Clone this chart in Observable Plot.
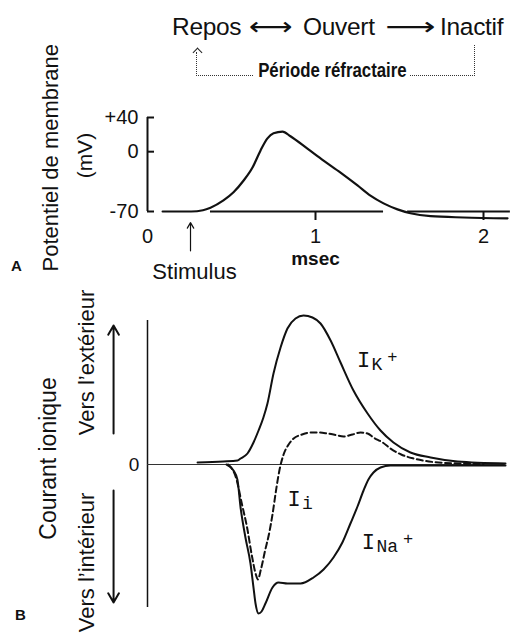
<!DOCTYPE html>
<html>
<head>
<meta charset="utf-8">
<script src="https://cdn.jsdelivr.net/npm/d3@7"></script>
<script src="https://cdn.jsdelivr.net/npm/@observablehq/plot@0.6"></script>
<style>
  body { margin: 0; background: #fff; }
  #fig { position: relative; width: 514px; height: 637px; overflow: hidden;
         font-family: "Liberation Sans", Arial, sans-serif; color: #111; background: #fff; }
  #fig svg { position: absolute; left: 0; top: 0; }
  .state { position: absolute; top: 14px; font-size: 24.5px; line-height: 25px; letter-spacing: -0.3px; white-space: nowrap; }
  .arrow { position: absolute; top: 14px; font-family: "DejaVu Sans", sans-serif; font-size: 25px; line-height: 25px;
           transform-origin: 0 50%; }
  .refr { position: absolute; left: 242px; top: 60px; width: 178px; text-align: center;
          font-size: 20px; line-height: 20px; font-weight: bold; white-space: nowrap; }
  .refr span { display: inline-block; transform: scaleX(0.84); background: #fff; padding: 0 2px; }
  .dot-l { position: absolute; left: 196px; top: 52px; width: 56px; height: 23px;
           border-left: 1.5px dotted #333; border-bottom: 1.5px dotted #333; }
  .dot-r { position: absolute; left: 410px; top: 45px; width: 64px; height: 30px;
           border-right: 1.5px dotted #333; border-bottom: 1.5px dotted #333; }
  .head { position: absolute; left: 193.5px; top: 49px; width: 6px; height: 6px;
          border-left: 1.5px solid #222; border-top: 1.5px solid #222; transform: rotate(45deg); }
</style>
</head>
<body>
<div id="fig">
  <!-- channel states -->
  <span class="state" style="left:172px">Repos</span>
  <span class="arrow" style="left:249px; transform: scaleX(1.22)">⟷</span>
  <span class="state" style="left:303px">Ouvert</span>
  <span class="arrow" style="left:385px; transform: scaleX(1.4)">⟶</span>
  <span class="state" style="left:440px">Inactif</span>
  <div class="dot-l"></div>
  <div class="dot-r"></div>
  <div class="head"></div>
  <div class="refr"><span>Période réfractaire</span></div>
</div>
<script>
// ---- A: action potential ----
const timeA = [0.09, 0.26, 0.33, 0.375, 0.452, 0.512, 0.571, 0.625, 0.673, 0.714, 0.75, 0.804,
               0.851, 0.952, 1.048, 1.149, 1.25, 1.327, 1.405, 1.488, 1.565, 1.685, 1.881, 2.143];
const potentialA = [-70, -70, -68.5, -65.5, -57, -47.5, -34, -18.5, 1.5, 15.5, 21.5, 23.5,
                    18, 3.5, -10.5, -24.5, -39.5, -51.5, -60.5, -67.5, -72, -75.5, -77, -78];
const vTicks = [40, 0, -70];
const vTickLabels = ["+40", "0", "-70"];
const tTickLabels = [0, 1, 2];
const tTickMarks = [1, 2];
const restStart = [0.375, 1.548];   // resting-level reference line pieces
const restEnd = [1.405, 2.16];
const stimulusTime = 0.256;

// ---- B: ionic currents (arbitrary units) ----
const timeK = [0.298, 0.45, 0.536, 0.554, 0.595, 0.631, 0.661, 0.69, 0.714, 0.75, 0.792, 0.833, 0.881,
               0.929, 0.982, 1.03, 1.09, 1.149, 1.226, 1.31, 1.387, 1.464, 1.565, 1.685, 1.845, 2.131];
const currentK = [0.2, 0.3, 0.4, 0.6, 1.1, 2.2, 3.4, 4.7, 6.1, 9.1, 11.7, 13.6, 14.6,
                  14.9, 14.7, 14.1, 12.4, 10.2, 7.4, 5.1, 3.4, 2.2, 1.2, 0.7, 0.3, 0.1];
const timeNa = [0.47, 0.512, 0.535, 0.554, 0.583, 0.613, 0.631, 0.643, 0.661, 0.679, 0.702, 0.744,
                0.78, 0.833, 0.911, 0.988, 1.048, 1.107, 1.16, 1.208, 1.25, 1.286, 1.315, 1.345,
                1.387, 1.446, 1.506, 2.131];
const currentNa = [0, -0.6, -1.5, -4.3, -7.3, -9.9, -12.3, -13.9, -14.9, -14.7, -13.9, -12.3,
                   -11.8, -11.9, -11.9, -11.3, -10.5, -9.3, -7.8, -5.9, -4.2, -2.6, -1.5, -0.8,
                   -0.3, -0.1, -0.1, -0.1];
const timeI = [0.48, 0.53, 0.56, 0.595, 0.62, 0.645, 0.657, 0.675, 0.70, 0.725, 0.744, 0.765, 0.785,
               0.81, 0.84, 0.87, 0.92, 0.97, 1.02, 1.07, 1.12, 1.167, 1.22, 1.268, 1.31, 1.345,
               1.40, 1.446, 1.51, 1.583, 1.70, 1.85, 2.0];
const currentI = [0, -1.5, -3.8, -6.5, -9.0, -11.0, -11.5, -10.5, -8.6, -6.8, -5.0, -2.6, -0.6,
                  1.0, 2.0, 2.6, 3.0, 3.2, 3.2, 3.1, 2.95, 2.8, 3.0, 3.2, 3.1, 2.7,
                  2.2, 1.6, 1.0, 0.6, 0.25, 0.1, 0.05];
const curveSub = ["K", "i", "Na"];
const curveSup = ["+", "", "+"];
const labelTime = [1.286, 0.872, 1.315];
const labelCurrent = [10.5, -3.4, -7.7];

const SANS = "Liberation Sans, Arial, sans-serif";
const MONO = "Liberation Mono, DejaVu Sans Mono, monospace";
const INK = "#111";

const xScale = {domain: [0, 2], range: [147, 483], axis: null};

const plotA = Plot.plot({
  width: 514, height: 637, margin: 0,
  style: {background: "transparent", overflow: "visible", color: INK},
  x: xScale,
  y: {domain: [-70, 40], range: [211, 117], axis: null},
  marks: [
    Plot.ruleX([0], {y1: -70, y2: 40, stroke: INK, strokeWidth: 2}),
    Plot.ruleY(vTicks, {x1: 0, x2: 0, insetRight: -7, stroke: INK, strokeWidth: 2}),
    Plot.text(vTicks, {x: 0, y: d => d, text: (d, i) => vTickLabels[i], textAnchor: "end",
                       dx: -9, fontSize: 20, fontFamily: SANS, fill: INK}),
    Plot.ruleY(restStart, {x1: d => d, x2: (d, i) => restEnd[i], y: -70, stroke: INK, strokeWidth: 2}),
    Plot.ruleX(tTickMarks, {y1: -70, y2: -70, insetBottom: -9, stroke: INK, strokeWidth: 2}),
    Plot.text(tTickLabels, {x: d => d, y: -70, text: d => String(d), dy: 25,
                            fontSize: 20, fontFamily: SANS, fill: INK}),
    Plot.text(["msec"], {x: 1, y: -126, fontSize: 19, fontWeight: "bold", fontFamily: SANS, fill: INK}),
    Plot.line(timeA, {x: d => d, y: (d, i) => potentialA[i], curve: "monotone-x",
                      stroke: INK, strokeWidth: 2.2}),
    Plot.arrow([stimulusTime], {x1: d => d, x2: d => d, y1: -116, y2: -83,
                                headLength: 8, stroke: INK, strokeWidth: 1.2}),
    Plot.text(["Stimulus"], {x: 0.28, y: -141, fontSize: 22, fontFamily: SANS, fill: INK}),
    Plot.text(["Potentiel de membrane"], {x: -0.577, y: -7, rotate: -90, fontSize: 22,
                                          fontFamily: SANS, fill: INK}),
    Plot.text(["(mV)"], {x: -0.369, y: -4.6, rotate: -90, fontSize: 21, fontFamily: SANS, fill: INK}),
    Plot.text(["A"], {x: -0.78, y: -134, fontSize: 15, fontWeight: "bold", fontFamily: SANS, fill: INK})
  ]
});

// horizontal offset of the charge sign, after the subscript
const supDx = (i) => 8 + curveSub[i].length * 10.8 + 5;

const plotB = Plot.plot({
  width: 514, height: 637, margin: 0,
  style: {background: "transparent", overflow: "visible", color: INK},
  x: xScale,
  y: {domain: [-15, 15], range: [614, 314], axis: null},
  marks: [
    Plot.ruleX([0], {y1: -14.3, y2: 14.4, stroke: INK, strokeWidth: 1.5}),
    Plot.ruleY([0], {x1: 0, x2: 2.13, stroke: "#333", strokeWidth: 1.2}),
    Plot.text([0], {x: 0, y: 0, text: d => String(d), dx: -13.5, fontSize: 19, fontFamily: SANS, fill: INK}),
    Plot.line(timeK, {x: d => d, y: (d, i) => currentK[i], curve: "monotone-x", stroke: INK, strokeWidth: 2}),
    Plot.line(timeNa, {x: d => d, y: (d, i) => currentNa[i], curve: "monotone-x", stroke: INK, strokeWidth: 2}),
    Plot.line(timeI, {x: d => d, y: (d, i) => currentI[i], curve: "monotone-x", stroke: INK,
                      strokeWidth: 2, strokeDasharray: "6,3.5"}),
    // curve names: I with subscript ion and superscript charge
    Plot.text(labelTime, {x: d => d, y: (d, i) => labelCurrent[i], text: () => "I",
                          fontSize: 22, fontFamily: MONO, fill: INK}),
    ...curveSub.map((s, i) => Plot.text([labelTime[i]], {x: d => d, y: labelCurrent[i], text: () => s,
                          textAnchor: "start", dx: 8, dy: 5, fontSize: 18, fontFamily: MONO, fill: INK})),
    ...curveSup.map((s, i) => Plot.text([labelTime[i]], {x: d => d, y: labelCurrent[i], text: () => s,
                          textAnchor: "start", dx: supDx(i), dy: -3, fontSize: 17, fontFamily: MONO, fill: INK})),
    // current direction
    Plot.arrow([-0.202], {x1: d => d, x2: d => d, y1: 3.1, y2: 13.9, headLength: 8,
                          stroke: INK, strokeWidth: 2}),
    Plot.arrow([-0.202], {x1: d => d, x2: d => d, y1: -2.6, y2: -13.8, headLength: 8,
                          stroke: INK, strokeWidth: 2}),
    Plot.text(["Courant ionique"], {x: -0.589, y: 0.6, rotate: -90, fontSize: 23, fontFamily: SANS, fill: INK}),
    Plot.text(["Vers l’extérieur"], {x: -0.363, y: 10.2, rotate: -90, fontSize: 22, fontFamily: SANS, fill: INK}),
    Plot.text(["Vers l’intérieur"], {x: -0.363, y: -9.8, rotate: -90, fontSize: 22, fontFamily: SANS, fill: INK}),
    Plot.text(["B"], {x: -0.756, y: -15.1, fontSize: 15, fontWeight: "bold", fontFamily: SANS, fill: INK})
  ]
});

const fig = document.getElementById("fig");
fig.insertBefore(plotB, fig.firstChild);
fig.insertBefore(plotA, fig.firstChild);
</script>
</body>
</html>
